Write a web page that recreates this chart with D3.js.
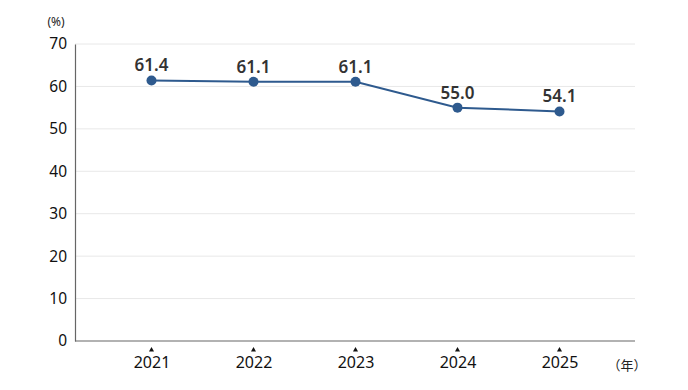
<!DOCTYPE html>
<html><head><meta charset="utf-8">
<script src="https://cdn.jsdelivr.net/npm/d3@7"></script>
<style>body{margin:0;background:#fff;} svg{display:block;font-family:"Noto Sans","Noto Sans CJK JP",sans-serif;}</style>
</head><body><svg id="c" width="688" height="390"></svg>
<script>
const years = ["2021","2022","2023","2024","2025"];
const values = [61.4, 61.1, 61.1, 55.0, 54.1];
const yTicks = [0,10,20,30,40,50,60,70];

(function(){
const svg = d3.select("#c");
const mL = 75, mR = 635, mT = 44, mB = 341;
const x = d3.scalePoint().domain(years).range([151.5, 559.5]);
const y = d3.scaleLinear().domain([0,70]).range([mB, mT]);

svg.append("g").selectAll("line").data(yTicks.filter(d=>d>0)).join("line")
  .attr("x1", mL).attr("x2", mR).attr("y1", d=>y(d)).attr("y2", d=>y(d))
  .attr("stroke", "#e8e8e8").attr("stroke-width", 1);

const ya = svg.append("g").attr("transform", `translate(${mL},0)`)
  .call(d3.axisLeft(y).tickValues(yTicks).tickSize(0).tickPadding(8));
ya.select(".domain").attr("stroke", "#666").attr("stroke-width", 1.2);
ya.selectAll("text").attr("font-size", 15.5).attr("fill", "#111").attr("font-family", "Noto Sans");

svg.append("line").attr("x1", mL).attr("x2", mR).attr("y1", y(0)).attr("y2", y(0))
  .attr("stroke", "#666").attr("stroke-width", 1.2);

const xa = svg.append("g").attr("transform", `translate(0,${y(0)})`)
  .call(d3.axisBottom(x).tickSize(0).tickPadding(16));
xa.select(".domain").remove();
xa.selectAll("text").attr("font-size", 16).attr("fill", "#111").attr("font-family", "Noto Sans");
svg.append("g").selectAll("path").data(years).join("path")
  .attr("d", d => `M${x(d)},${y(0)+6} l-2.5,4.5 h5 z`).attr("fill", "#111");

svg.append("text").attr("x", 56).attr("y", 26).attr("text-anchor", "middle")
  .attr("font-size", 12).attr("fill", "#222").text("(%)");
svg.append("text").attr("x", 627).attr("y", 370).attr("text-anchor", "middle")
  .attr("font-size", 13).attr("fill", "#222").text("（年）");

const line = d3.line().x((d,i)=>x(years[i])).y(d=>y(d));
svg.append("path").datum(values).attr("d", line).attr("fill", "none")
  .attr("stroke", "#2e5a8e").attr("stroke-width", 2);
svg.append("g").selectAll("circle").data(values).join("circle")
  .attr("cx", (d,i)=>x(years[i])).attr("cy", d=>y(d)).attr("r", 5).attr("fill", "#2e5a8e");

svg.append("g").selectAll("text").data(values).join("text")
  .attr("x", (d,i)=>x(years[i])).attr("y", d=>y(d)-9).attr("text-anchor", "middle")
  .attr("font-size", 17).attr("font-weight", "600").attr("fill", "#333")
  .text(d=>d.toFixed(1));
})();
</script></body></html>
